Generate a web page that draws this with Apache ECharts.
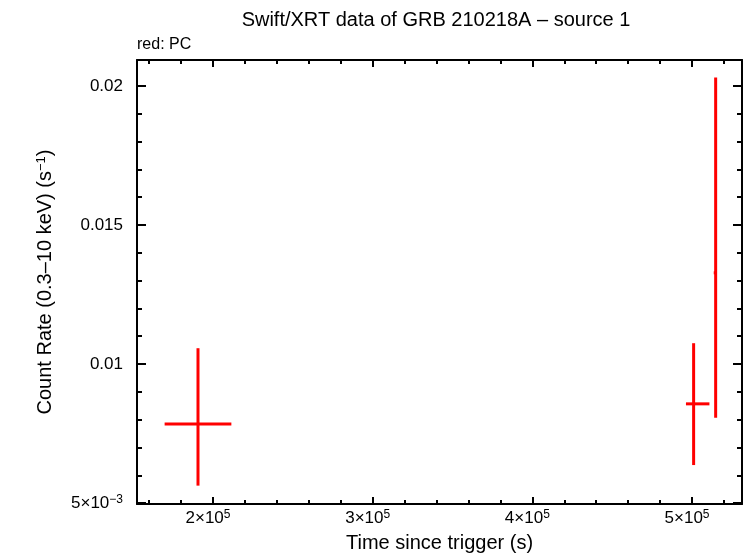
<!DOCTYPE html>
<html>
<head>
<meta charset="utf-8">
<script src="https://cdn.jsdelivr.net/npm/echarts@6/dist/echarts.min.js"></script>
<style>html,body{margin:0;padding:0;background:#fff}#c{width:746px;height:558px}</style>
</head>
<body>
<div id="c"></div>
<script>
// ---- data ----
var xCenter = [190600, 501000, 514800];
var xLow    = [169700, 496200, 513600];
var xHigh   = [211500, 510900, 515400];
var rate    = [0.00785, 0.00857, 0.01328];
var rateLow = [0.00563, 0.00637, 0.00807];
var rateHigh= [0.01057, 0.01075, 0.02030];
var xTickLabels = {200000: ['2×10', '5'], 300000: ['3×10', '5'], 400000: ['4×10', '5'], 500000: ['5×10', '5']};
var yTickLabels = {'0.005': null, '0.01': '0.01', '0.015': '0.015', '0.02': '0.02'};

var FONT = 'Liberation Sans';
var rows = xCenter.map(function (x, i) {
  return [x, rate[i], xLow[i], xHigh[i], rateLow[i], rateHigh[i]];
});

var chart = echarts.init(document.getElementById('c'), null, {renderer: 'canvas'});
var axisCommon = {
  type: 'value',
  axisLine: {show: true, onZero: false, lineStyle: {color: '#000', width: 2}},
  splitLine: {show: false}
};
var supStyle = {fontFamily: FONT, fontSize: 12, color: '#000', verticalAlign: 'top', padding: [0, 0, 7, 0]};
var option = {
  backgroundColor: '#fff',
  animation: false,
  title: [
    {text: 'Swift/XRT data of GRB 210218A \u2013 source 1', left: 436, top: 10, textAlign: 'center', padding: 0,
     textStyle: {fontFamily: FONT, fontSize: 20, fontWeight: 'normal', color: '#000'}},
    {text: 'red: PC', left: 137, top: 37, padding: 0,
     textStyle: {fontFamily: FONT, fontSize: 16, fontWeight: 'normal', color: '#000'}}
  ],
  grid: {left: 137, right: 4, top: 60, bottom: 51, containLabel: false},
  xAxis: [
    Object.assign({}, axisCommon, {
      position: 'bottom', min: 152400, max: 531300, minInterval: 100000, maxInterval: 100000,
      name: 'Time since trigger (s)', nameLocation: 'middle', nameGap: 29,
      nameTextStyle: {fontFamily: FONT, fontSize: 20, color: '#000'},
      axisTick: {show: true, inside: true, length: 7, lineStyle: {color: '#000', width: 2}},
      minorTick: {show: true, splitNumber: 5, length: 4, lineStyle: {color: '#000', width: 2}},
      axisLabel: {show: true, margin: 5, showMinLabel: false, showMaxLabel: false, padding: [0, 10, 0, 0],
        formatter: function (v) {
          var l = xTickLabels[Math.round(v)];
          return l ? '{a|' + l[0] + '}{s|' + l[1] + '}' : '';
        },
        rich: {a: {fontFamily: FONT, fontSize: 17, color: '#000'}, s: supStyle}}
    }),
    Object.assign({}, axisCommon, {
      position: 'top', min: 152400, max: 531300, minInterval: 100000, maxInterval: 100000,
      axisTick: {show: true, inside: true, length: 7, lineStyle: {color: '#000', width: 2}},
      minorTick: {show: true, splitNumber: 5, length: 4, lineStyle: {color: '#000', width: 2}},
      axisLabel: {show: false}
    })
  ],
  yAxis: [
    Object.assign({}, axisCommon, {
      position: 'left', min: 0.00497, max: 0.02093, minInterval: 0.005, maxInterval: 0.005,
      name: 'Count Rate (0.3\u201310 keV) (s{s|\u22121})', nameLocation: 'middle', nameGap: 82, nameRotate: 90,
      nameTextStyle: {fontFamily: FONT, fontSize: 20, color: '#000',
        rich: {s: {fontFamily: FONT, fontSize: 13, color: '#000', verticalAlign: 'top', padding: [0, 0, 7, 0]}}},
      axisTick: {show: true, inside: true, length: 9, lineStyle: {color: '#000', width: 2}},
      minorTick: {show: true, splitNumber: 5, length: 5, lineStyle: {color: '#000', width: 2}},
      axisLabel: {show: true, margin: 14, showMinLabel: false, showMaxLabel: false,
        formatter: function (v) {
          var k = String(Math.round(v * 1000) / 1000);
          if (!(k in yTickLabels)) return '';
          if (yTickLabels[k] === null) return '{a|5×10}{s|\u22123}';
          return '{a|' + yTickLabels[k] + '}';
        },
        rich: {a: {fontFamily: FONT, fontSize: 17, color: '#000'}, s: supStyle}}
    }),
    Object.assign({}, axisCommon, {
      position: 'right', min: 0.00497, max: 0.02093, minInterval: 0.005, maxInterval: 0.005,
      axisTick: {show: true, inside: true, length: 9, lineStyle: {color: '#000', width: 2}},
      minorTick: {show: true, splitNumber: 5, length: 5, lineStyle: {color: '#000', width: 2}},
      axisLabel: {show: false}
    })
  ],
  series: [{
    type: 'custom',
    xAxisIndex: 0, yAxisIndex: 0,
    data: rows,
    clip: true,
    renderItem: function (params, api) {
      var x = api.value(0), y = api.value(1);
      var pL = api.coord([api.value(2), y]);
      var pR = api.coord([api.value(3), y]);
      var pB = api.coord([x, api.value(4)]);
      var pT = api.coord([x, api.value(5)]);
      var st = {stroke: '#ff0000', lineWidth: 3};
      return {
        type: 'group',
        children: [
          {type: 'line', shape: {x1: pL[0], y1: pL[1], x2: pR[0], y2: pR[1]}, style: st},
          {type: 'line', shape: {x1: pB[0], y1: pB[1], x2: pT[0], y2: pT[1]}, style: st}
        ]
      };
    }
  }]
};
chart.setOption(option);
</script>
</body>
</html>
